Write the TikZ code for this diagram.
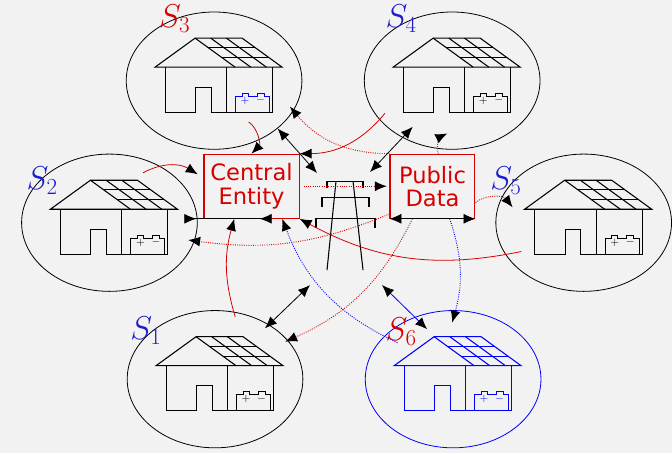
\documentclass[tikz,border=0pt]{standalone}
\usepackage[dvipsnames]{xcolor}
\usepackage{tikz}
\usepackage{fontspec}
\usetikzlibrary{shapes.geometric, arrows.meta, positioning}
\newfontfamily\boxfont{DejaVu Sans}
\definecolor{canvas}{RGB}{242,242,242}
\definecolor{flowred}{RGB}{215,0,0}
\definecolor{tagblue}{RGB}{30,30,205}

\tikzset{
  accu/.style={},
  house/.pic={
    \begin{scope}[x=0.75bp, y=-0.75bp, line width=0.8pt]
      % roof with the solar panel
      \draw (-59,-13.5) -- (-19,-42.5) -- (28,-42.5) -- (68,-13.5) -- cycle;
      \draw (-19,-42.5) -- (21,-13.5);
      \foreach \k in {1,2} {
        \draw ({-19+47*\k/3},-42.5) -- ({21+47*\k/3},-13.5);
        \draw ({-19+40*\k/3},{-42.5+29*\k/3}) -- ({28+40*\k/3},{-42.5+29*\k/3});
      }
      % walls and door
      \draw (-49,-13.5) -- (-49,31.5) -- (-18.5,31.5) -- (-18.5,6.5) -- (-3,6.5) -- (-3,31.5)
        -- (58.5,31.5) -- (58.5,-13.5);
      \draw (12.5,-13.5) -- (12.5,31.5);
      % battery
      \draw[accu] (21.5,31.5) -- (21.5,15.5) -- (28,15.5) -- (28,12.5) -- (34,12.5) -- (34,15.5)
        -- (43,15.5) -- (43,12.5) -- (50,12.5) -- (50,15.5) -- (55.5,15.5) -- (55.5,31.5);
      \node[accu, font=\fontsize{8}{8}\selectfont, inner sep=0pt] (-plus) at (31,20) {$+$};
      \node[accu, font=\fontsize{8}{8}\selectfont, inner sep=0pt] (-minus) at (46.5,19.5) {$-$};
    \end{scope}
  }
}

\begin{document}
\begin{tikzpicture}[
    >={Latex[length=9pt,width=7.5pt,color=black]},
    site/.style={draw, ellipse, line width=0.6pt, minimum width=1.83in, minimum height=1.43in, inner sep=0pt},
    tag/.style={font=\fontsize{23}{28}\selectfont},
    entity/.style={draw=flowred, text=flowred, line width=0.8pt, minimum height=0.667in, inner sep=0pt,
      align=center, font=\boxfont\fontsize{17}{17.5}\selectfont},
    flow/.style={flowred, line width=0.6pt},
    pub/.style={flowred, line width=0.7pt, densely dotted},
    pubblue/.style={blue, line width=0.7pt, densely dotted},
    power/.style={line width=0.6pt}]
  \path[use as bounding box, fill=canvas] (-3.5in,-2.36in) rectangle (3.5in,2.36in);

  % prosumer sites
  \node[site] (s1) at (-1.26in, -1.59in) {};
  \node[site] (s2) at (-2.36in, 0.04in) {};
  \node[site] (s3) at (-1.27in, 1.52in) {};
  \node[site] (s4) at (1.21in, 1.52in) {};
  \node[site] (s5) at (2.58in, 0.04in) {};
  \node[site, draw=blue] (s6) at (1.22in, -1.59in) {};

  \pic (h1) at (s1) {house};
  \pic (h2) at (s2) {house};
  \pic[accu/.style={blue}] (h3) at (s3) {house};
  \pic (h4) at (s4) {house};
  \pic (h5) at (s5) {house};
  \pic[blue] (h6) at (s6) {house};

  \node[tag, tagblue] (l1) at (-1.98in, -1.08in) {$S_1$};
  \node[tag, tagblue] (l2) at (-3.06in, 0.48in) {$S_2$};
  \node[tag, flowred] (l3) at (-1.68in, 2.17in) {$S_3$};
  \node[tag, tagblue] (l4) at (0.68in, 2.17in) {$S_4$};
  \node[tag, tagblue] (l5) at (1.77in, 0.48in) {$S_5$};
  \node[tag, flowred] (l6) at (0.68in, -1.10in) {$S_6$};

  \node[entity, minimum width=0.99in] (ce) at (-0.88in, 0.42in) {Central\\Entity};
  \node[entity, minimum width=0.885in] (pd) at (1.005in, 0.42in) {Public\\Data};

  % power line tower
  \begin{scope}[shift={(0.094in,0.474in)}, x=0.75bp, y=0.75bp, line width=0.8pt]
    \draw (-18,-7) -- (-18,0) -- (18,0) -- (18,-7);
    \draw (-23,-26) -- (-23,-16) -- (24,-16) -- (24,-26);
    \draw (-29,-47) -- (-29,-37) -- (30,-37) -- (30,-47);
    \draw (-9,0) -- (-18,-89);
    \draw (8,0) -- (18,-89);
    \coordinate (t-nw) at (-28,8);
    \coordinate (t-ne) at (25,9);
    \coordinate (t-sw) at (-35,-104);
    \coordinate (t-se) at (37,-104);
  \end{scope}

  % sites to the central entity
  \path[->]
    ([xshift=0.36in,yshift=-0.43in]s3.center) edge[flow, bend left=50] (ce.north)
    ([xshift=-0.70in,yshift=-0.34in]s4.center) edge[flow, bend left=25] (ce.north east)
    ([xshift=0.35in,yshift=0.52in]s2.center) edge[flow, bend left=30] ([xshift=-0.06in,yshift=0.125in]ce.west)
    ([xshift=-0.65in,yshift=-0.30in]s5.center) edge[flow, bend left=20] (ce.south east)
    ([xshift=0.21in,yshift=0.65in]s1.center) edge[flow, bend left=16] ([xshift=-0.18in]ce.south)
    ([xshift=-0.58in,yshift=0.38in]s6.center) edge[pubblue, bend left=22] ([xshift=0.32in]ce.south);

  % public data to the sites
  \path[->]
    (pd.north west) edge[pub, bend left=25] ([xshift=0.79in,yshift=-0.27in]s3.center)
    ([xshift=0.06in]pd.north) edge[pub, bend left=40] ([xshift=-0.05in,yshift=-0.55in]s4.center)
    ([yshift=0.05in]pd.south west) edge[pub, bend left=15] ([xshift=0.82in,yshift=-0.18in]s2.center)
    ([yshift=-0.17in]pd.east) edge[pub, bend left=45] ([xshift=-0.74in,yshift=0.16in]s5.center)
    ([xshift=-0.21in]pd.south) edge[pub, bend left=20] ([xshift=0.73in,yshift=0.39in]s1.center)
    ([xshift=0.18in]pd.south) edge[pubblue, bend left=17] ([xshift=-0.01in,yshift=0.59in]s6.center)
    (ce) edge[pub, shorten <=3bp, shorten >=2bp] (pd);

  % sites and the grid
  \path[<->]
    (s3.-37) edge[power] (t-nw)
    ([xshift=-0.41in,yshift=-0.48in]s4.center) edge[power] (t-ne)
    ([xshift=0.52in,yshift=0.53in]s1.center) edge[power] (t-sw)
    ([xshift=-0.27in,yshift=0.52in]s6.center) edge[power, blue] (t-se);

  \draw[>-<, power] ([xshift=-0.2in]ce.south west) -- ([xshift=0.21in]ce.south);
  \draw[<->, power] (pd.south west) -- (pd.south east);
\end{tikzpicture}
\end{document}
